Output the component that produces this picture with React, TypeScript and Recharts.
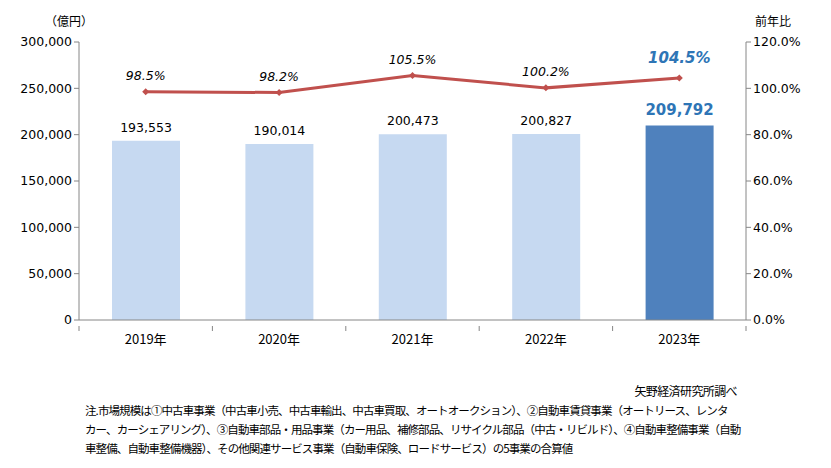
import { Bar, Cell, ComposedChart, LabelList, Line, XAxis, YAxis } from "recharts"

const years = ["2019年", "2020年", "2021年", "2022年", "2023年"]
const marketSize = [193553, 190014, 200473, 200827, 209792]
const yoy = [98.5, 98.2, 105.5, 100.2, 104.5]
const leftTicks = [0, 50000, 100000, 150000, 200000, 250000, 300000]
const rightTicks = [0, 20, 40, 60, 80, 100, 120]

const notes = [
  "注.市場規模は①中古車事業（中古車小売、中古車輸出、中古車買取、オートオークション）、②自動車賃貸事業（オートリース、レンタ",
  "カー、カーシェアリング）、③自動車部品・用品事業（カー用品、補修部品、リサイクル部品（中古・リビルド）、④自動車整備事業（自動",
  "車整備、自動車整備機器）、その他関連サービス事業（自動車保険、ロードサービス）の5事業の合算値",
]

const data = years.map((year, i) => ({ year, size: marketSize[i], yoy: yoy[i] }))

const axisColor = "#868686"
const font = "'DejaVu Sans', Verdana, sans-serif"
const jpFont = "'Noto Sans CJK JP', sans-serif"
const last = years.length - 1

const Diamond = (props: any) => {
  const { cx, cy } = props
  if (cx == null || cy == null) return null
  const r = 3.5
  return <polygon points={`${cx},${cy - r} ${cx + r},${cy} ${cx},${cy + r} ${cx - r},${cy}`} fill="#C0504D" />
}

// category tick with tick marks drawn at the band edges, like Excel
const YearTick = (props: any) => {
  const { x, y, payload, index } = props
  const half = payload?.offset || 66.7
  const top = y - 10
  return (
    <g>
      <line x1={x - half} y1={top} x2={x - half} y2={top + 5} stroke={axisColor} />
      {index === last && <line x1={x + half} y1={top} x2={x + half} y2={top + 5} stroke={axisColor} />}
      <text x={x} y={y + 8} textAnchor="middle" fontFamily={jpFont} fontSize={13} fill="#000">
        {payload.value}
      </text>
    </g>
  )
}

const barLabel = (props: any) => {
  const { x, y, width, index, value } = props
  const hi = index === last
  return (
    <text
      x={x + width / 2}
      y={y - (hi ? 11 : 9)}
      textAnchor="middle"
      fontFamily={font}
      fontSize={hi ? 15 : 12.5}
      fontWeight={hi ? "bold" : "normal"}
      fill={hi ? "#2E75B6" : "#000"}
    >
      {Number(value).toLocaleString("en-US")}
    </text>
  )
}

const lineLabel = (props: any) => {
  const { x, y, index, value } = props
  const hi = index === last
  return (
    <text
      x={x}
      y={y - (hi ? 15 : 12)}
      textAnchor="middle"
      fontFamily={font}
      fontSize={hi ? 15 : 12.5}
      fontStyle="italic"
      fontWeight={hi ? "bold" : "normal"}
      fill={hi ? "#2E75B6" : "#000"}
    >
      {Number(value).toFixed(1)}%
    </text>
  )
}

export default function App() {
  return (
    <div style={{ position: "absolute", left: 0, top: 0, width: 831, height: 468, background: "#fff" }}>
      <div style={{ position: "absolute", left: 45, top: 12, fontFamily: jpFont, fontSize: 12 }}>（億円）</div>
      <div style={{ position: "absolute", left: 755, top: 12, fontFamily: jpFont, fontSize: 12 }}>前年比</div>
      <ComposedChart width={831} height={360} data={data} margin={{ top: 42, right: 0, bottom: 0, left: 0 }}>
        <XAxis
          dataKey="year"
          height={40}
          tickLine={false}
          axisLine={{ stroke: axisColor }}
          tick={<YearTick />}
          tickMargin={10}
          interval={0}
        />
        <YAxis
          yAxisId="left"
          width={79}
          domain={[0, 300000]}
          ticks={leftTicks}
          tickFormatter={(v: number) => v.toLocaleString("en-US")}
          axisLine={{ stroke: axisColor }}
          tickLine={{ stroke: axisColor }}
          tickSize={5}
          tick={{ fontFamily: font, fontSize: 12.5, fill: "#000" }}
        />
        <YAxis
          yAxisId="right"
          orientation="right"
          width={85}
          domain={[0, 120]}
          ticks={rightTicks}
          tickFormatter={(v: number) => `${v.toFixed(1)}%`}
          axisLine={{ stroke: axisColor }}
          tickLine={{ stroke: axisColor }}
          tickSize={5}
          tick={{ fontFamily: font, fontSize: 12.5, fill: "#000" }}
        />
        <Bar yAxisId="left" dataKey="size" barSize={68} isAnimationActive={false}>
          {data.map((d, i) => (
            <Cell key={d.year} fill={i === last ? "#4F81BD" : "#C6D9F1"} />
          ))}
          <LabelList dataKey="size" content={barLabel} />
        </Bar>
        <Line
          yAxisId="right"
          dataKey="yoy"
          stroke="#C0504D"
          strokeWidth={3}
          dot={<Diamond />}
          activeDot={false}
          isAnimationActive={false}
        >
          <LabelList dataKey="yoy" content={lineLabel} />
        </Line>
      </ComposedChart>
      <div style={{ position: "absolute", right: 94, top: 382, fontFamily: jpFont, fontSize: 12, letterSpacing: -0.6 }}>
        矢野経済研究所調べ
      </div>
      {notes.map((n, i) => (
        <div
          key={i}
          style={{
            position: "absolute",
            left: 85,
            top: 402 + i * 19,
            fontFamily: jpFont,
            fontSize: 11.5,
            letterSpacing: -0.9,
            whiteSpace: "nowrap",
          }}
        >
          {n}
        </div>
      ))}
    </div>
  )
}
